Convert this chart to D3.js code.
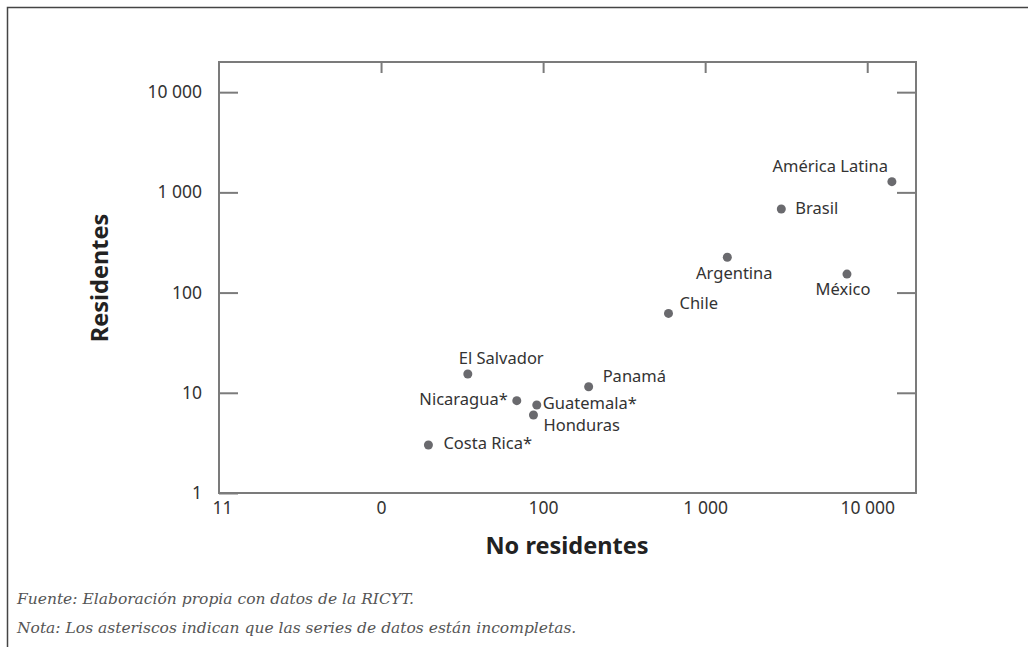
<!DOCTYPE html>
<html><head><meta charset="utf-8">
<script src="https://cdn.jsdelivr.net/npm/d3@7"></script>
<style>body{margin:0;background:#fff} svg{display:block}</style>
</head><body>
<script>
// ---- data ----
const countries    = ["América Latina","Brasil","Argentina","México","Chile","El Salvador","Panamá","Nicaragua*","Guatemala*","Honduras","Costa Rica*"];
const noResidentes = [14200, 2950, 1370, 7500, 594, 34.3, 191, 68.8, 91.4, 87.2, 19.6];
const residentes   = [1280, 683, 225, 153, 62, 15.4, 11.5, 8.34, 7.55, 6.0, 3.01];
const xTickValues  = [1, 10, 100, 1000, 10000];
const xTickLabels  = ["11", "0", "100", "1 000", "10 000"];
const yTickValues  = [1, 10, 100, 1000, 10000];
const yTickLabels  = ["1", "10", "100", "1 000", "10 000"];
const xTitle = "No residentes";
const yTitle = "Residentes";
const notes = ["Fuente: Elaboración propia con datos de la RICYT.",
               "Nota: Los asteriscos indican que las series de datos están incompletas."];

// ---- layout (label offsets relative to each point) ----
const labelLayout = [
  {dx:-4, dy:-10, anchor:"end"},
  {dx:14, dy:5, anchor:"start"},
  {dx:7, dy:22, anchor:"middle"},
  {dx:-4, dy:21, anchor:"middle"},
  {dx:11, dy:-4, anchor:"start"},
  {dx:-9, dy:-10, anchor:"start"},
  {dx:14, dy:-5, anchor:"start"},
  {dx:-9, dy:4, anchor:"end"},
  {dx:6, dy:4, anchor:"start"},
  {dx:10, dy:16, anchor:"start"},
  {dx:15, dy:4, anchor:"start"}
];

const W = 1028, H = 647;
const L = 219, R = 916, T = 62, B = 493;
const axisColor = "#7b7b7b", textColor = "#333", dotColor = "#6a6a6e";
const font = "'Noto Sans', sans-serif";

const svg = d3.select("body").append("svg").attr("width", W).attr("height", H);

// outer frame (top + left visible)
svg.append("path").attr("d", `M7.5,${H} V7.5 H${W}`)
  .attr("fill","none").attr("stroke","#444").attr("stroke-width",1.5);

const x = d3.scaleLog().domain([1, 20000]).range([L, R]);
const y = d3.scaleLog().domain([1, 20000]).range([B, T]);

function styleAxis(g){
  g.select(".domain").remove();
  g.selectAll(".tick line").attr("stroke", axisColor).attr("stroke-width", 2);
  g.selectAll(".tick text").attr("fill", textColor).style("font-family", font).style("font-size","17.5px");
}

svg.append("g").attr("transform",`translate(${L},0)`)
  .call(d3.axisLeft(y).tickValues(yTickValues).tickSize(-19).tickPadding(17).tickFormat((d,i)=>yTickLabels[i]))
  .call(styleAxis);
svg.append("g").attr("transform",`translate(${R},0)`)
  .call(d3.axisRight(y).tickValues(yTickValues.slice(1)).tickSize(-19).tickFormat(""))
  .call(styleAxis);
svg.append("g").attr("transform",`translate(0,${T})`)
  .call(d3.axisTop(x).tickValues(xTickValues.slice(1)).tickSize(-11).tickFormat(""))
  .call(styleAxis);
svg.append("g").attr("transform",`translate(0,${B})`)
  .call(d3.axisBottom(x).tickValues(xTickValues).tickSize(0).tickPadding(8.5).tickFormat((d,i)=>xTickLabels[i]))
  .call(styleAxis)
  .call(g=>g.selectAll(".tick").filter((d,i)=>i===0).select("text").attr("dx", 3));

// plot frame
svg.append("rect").attr("x",L).attr("y",T).attr("width",R-L).attr("height",B-T)
  .attr("fill","none").attr("stroke",axisColor).attr("stroke-width",2);

const data = countries.map((c,i)=>({name:c, xv:noResidentes[i], yv:residentes[i], lay:labelLayout[i]}));

svg.append("g").selectAll("circle").data(data).join("circle")
  .attr("cx", d=>x(d.xv)).attr("cy", d=>y(d.yv)).attr("r", 4.5).attr("fill", dotColor);

svg.append("g").selectAll("text").data(data).join("text")
  .attr("x", d=>x(d.xv)+d.lay.dx).attr("y", d=>y(d.yv)+d.lay.dy)
  .attr("text-anchor", d=>d.lay.anchor)
  .attr("fill", textColor).style("font-family", font).style("font-size","16.5px")
  .text(d=>d.name);

// axis titles
svg.append("text").attr("x", 567).attr("y", 554).attr("text-anchor","middle")
  .attr("fill","#222").style("font-family",font).style("font-size","23.5px").style("font-weight","bold")
  .text(xTitle);
svg.append("text").attr("transform","translate(108,278) rotate(-90)").attr("text-anchor","middle")
  .attr("fill","#222").style("font-family",font).style("font-size","23.5px").style("font-weight","bold")
  .text(yTitle);

// notes
svg.append("g").selectAll("text").data(notes).join("text")
  .attr("x", 17).attr("y", (d,i)=>604 + i*29)
  .attr("fill","#555").style("font-family","'DejaVu Serif', serif").style("font-style","italic").style("font-size","15.5px")
  .text(d=>d);
</script>
</body></html>
